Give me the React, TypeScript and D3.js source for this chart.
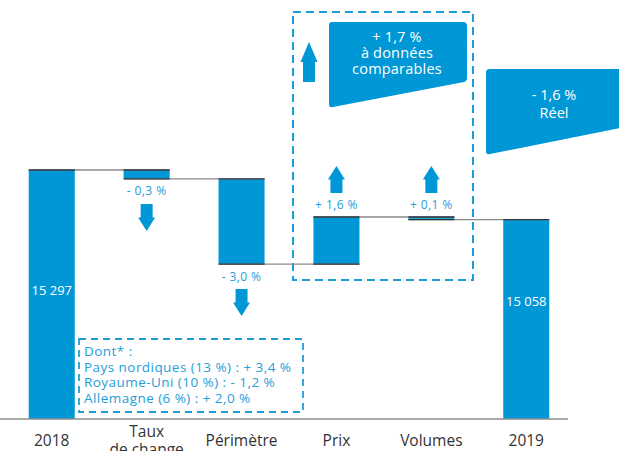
import React from "react";
import * as d3 from "d3";

const categories = ["2018", "Taux de change", "Périmètre", "Prix", "Volumes", "2019"];
const barStart = [14100, 15297, 15254, 14845, 15071, 14100];
const barEnd = [15297, 15254, 14845, 15071, 15062, 15058];
const connectorLevels = [15297, 15254, 14845, 15071, 15058];
const valueLabels = ["15 297", "- 0,3 %", "- 3,0 %", "+ 1,6 %", "+ 0,1 %", "15 058"];
const arrowDir = [0, -1, -1, 1, 1, 0];
const noteLines = ["Dont* :", "Pays nordiques (13 %) : + 3,4 %", "Royaume-Uni (10 %) : - 1,2 %", "Allemagne (6 %) : + 2,0 %"];
const comparableLines = ["+ 1,7 %", "à données", "comparables"];
const realLines = ["- 1,6 %", "Réel"];

const W = 619, H = 451;
const BLUE = "#0097d6";
const LBLUE = "#1f9dd9";
const FONT = "'Open Sans', 'DejaVu Sans', sans-serif";

function Arrow({ cx, top, bottom, up }: { cx: number; top: number; bottom: number; up: boolean }) {
  const hw = 8.5, sw = 6, hh = (bottom - top) * 0.5;
  let pts: [number, number][];
  if (up) {
    pts = [[cx, top], [cx + hw, top + hh], [cx + sw, top + hh], [cx + sw, bottom], [cx - sw, bottom], [cx - sw, top + hh], [cx - hw, top + hh]];
  } else {
    pts = [[cx, bottom], [cx + hw, bottom - hh], [cx + sw, bottom - hh], [cx + sw, top], [cx - sw, top], [cx - sw, bottom - hh], [cx - hw, bottom - hh]];
  }
  return <polygon points={pts.map(p => p.join(",")).join(" ")} fill={BLUE} />;
}

export default function App() {
  const x = d3.scaleBand().domain(categories).range([5, 573]).paddingInner(0.515).paddingOuter(0.25);
  const y = d3.scaleLinear().domain([14100, 15297]).range([419, 170]);
  const bw = x.bandwidth();
  const cx = (c: string) => (x(c) as number) + bw / 2;

  return (
    <svg width={W} height={H} style={{ position: "absolute", left: 0, top: 0 }} fontFamily={FONT}>
      {/* dashed box around comparable */}
      <rect x={293} y={12} width={180} height={268} fill="none" stroke={LBLUE} strokeWidth={2} strokeDasharray="8,5" />
      {/* bars */}
      {categories.map((c, i) => {
        const y0 = y(Math.max(barStart[i], barEnd[i]));
        const y1 = y(Math.min(barStart[i], barEnd[i]));
        return <rect key={c} x={x(c)} y={y0} width={bw} height={Math.max(1, y1 - y0)} fill={BLUE} />;
      })}
      {/* axis */}
      <line x1={0} x2={568} y1={419} y2={419} stroke="#8c8c8c" strokeWidth={1.5} />
      {/* connectors */}
      {connectorLevels.map((v, i) => (
        <g key={i}>
          <line x1={x(categories[i])} x2={(x(categories[i + 1]) as number) + bw} y1={y(v)} y2={y(v)} stroke="#8a8a8a" strokeWidth={1.3} />
          <line x1={x(categories[i])} x2={(x(categories[i]) as number) + bw} y1={y(v)} y2={y(v)} stroke="#2d3a44" strokeWidth={1.3} />
          <line x1={x(categories[i + 1])} x2={(x(categories[i + 1]) as number) + bw} y1={y(v)} y2={y(v)} stroke="#2d3a44" strokeWidth={1.3} />
        </g>
      ))}
      {/* totals labels */}
      <text x={cx("2018")} y={295} textAnchor="middle" fill="#fff" fontSize={13}>{valueLabels[0]}</text>
      <text x={cx("2019")} y={306} textAnchor="middle" fill="#fff" fontSize={13}>{valueLabels[5]}</text>
      {/* step labels and arrows */}
      {categories.map((c, i) => {
        if (arrowDir[i] === 0) return null;
        const lo = y(Math.min(barStart[i], barEnd[i]));
        const hi = y(Math.max(barStart[i], barEnd[i]));
        if (arrowDir[i] < 0) {
          return (
            <g key={c}>
              <text x={cx(c)} y={lo + 16.5} textAnchor="middle" fill={LBLUE} fontSize={12} letterSpacing={0.4}>{valueLabels[i]}</text>
              <Arrow cx={cx(c)} top={lo + 25} bottom={lo + 52} up={false} />
            </g>
          );
        }
        return (
          <g key={c}>
            <text x={cx(c)} y={hi - 8} textAnchor="middle" fill={LBLUE} fontSize={12} letterSpacing={0.4}>{valueLabels[i]}</text>
            <Arrow cx={cx(c)} top={hi - 51} bottom={hi - 24} up={true} />
          </g>
        );
      })}
      {/* big arrow */}
      <Arrow cx={309} top={42} bottom={82} up={true} />
      {/* callout comparable */}
      <path d="M332,22 L463,22 Q467,22 467,26 L467,78 Q467,81 464,82 L333,107 Q329,108 329,104 L329,25 Q329,22 332,22 Z" fill={BLUE} />
      {comparableLines.map((t, i) => (
        <text key={i} x={397} y={42 + i * 16} textAnchor="middle" fill="#fff" fontSize={14.5} letterSpacing={0.2}>{t}</text>
      ))}
      {/* callout real */}
      <path d="M490,69 L625,69 L625,127 L490,154 Q486,155 486,151 L486,72 Q486,69 490,69 Z" fill={BLUE} />
      {realLines.map((t, i) => (
        <text key={i} x={554} y={100 + i * 18} textAnchor="middle" fill="#fff" fontSize={14.5}>{t}</text>
      ))}
      {/* note box */}
      <rect x={79} y={339} width={224} height={73} fill="#fff" stroke={LBLUE} strokeWidth={1.8} strokeDasharray="7,5" />
      {noteLines.map((t, i) => (
        <text key={i} x={84} y={356 + i * 15.5} fill={LBLUE} fontSize={13.5} letterSpacing={0.45}>{t}</text>
      ))}
      {/* category labels */}
      {categories.map(c => {
        if (c === "Taux de change") {
          return (
            <text key={c} x={cx(c)} textAnchor="middle" fill="#333" fontSize={15.5}>
              <tspan x={cx(c)} y={437}>Taux</tspan>
              <tspan x={cx(c)} y={455}>de change</tspan>
            </text>
          );
        }
        return <text key={c} x={cx(c)} y={445.5} textAnchor="middle" fill="#333" fontSize={15.5}>{c}</text>;
      })}
    </svg>
  );
}
